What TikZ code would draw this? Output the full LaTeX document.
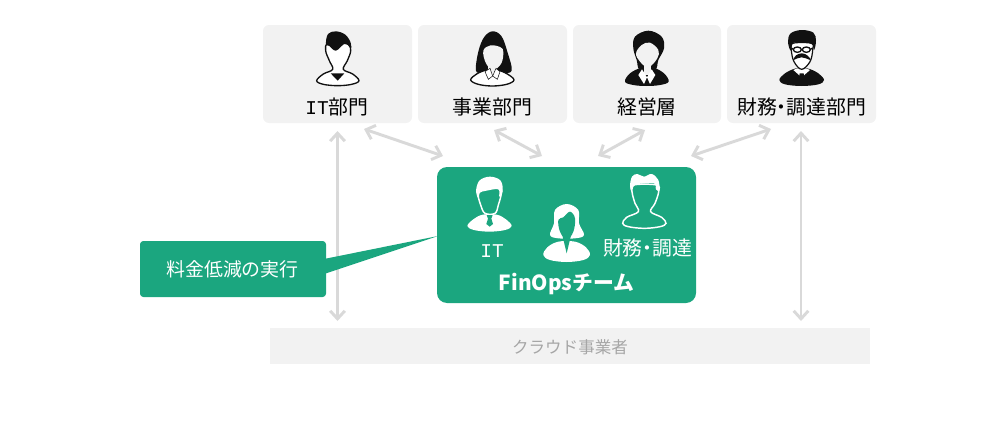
\documentclass[tikz,border=0pt]{standalone}
\usepackage{fontspec}
\setmainfont{Noto Sans CJK JP}
\newfontfamily\ltn{Liberation Mono}
\usetikzlibrary{arrows.meta}
\definecolor{grn}{HTML}{1BA67F}
\definecolor{pale}{HTML}{F2F2F2}
\definecolor{arr}{HTML}{D9D9D9}
\definecolor{ink}{HTML}{111111}
\definecolor{cloudtxt}{HTML}{A6A6A6}
\newcommand{\blob}[2][]{\fill[#1] plot[smooth cycle,tension=0.6] coordinates {#2};}
\newcommand{\blobd}[2][]{\filldraw[#1] plot[smooth cycle,tension=0.6] coordinates {#2};}
\newcommand{\ltin}[1]{{\ltn\fontsize{14.6pt}{15pt}\selectfont #1}}
\newcommand{\ndot}{\hspace{-0.26em}・\hspace{-0.26em}}
\tikzset{
  paneltext/.style={text=black,inner sep=0pt,anchor=center,font=\fontsize{14.9pt}{16pt}\selectfont},
  panel/.style={fill=pale,rounded corners=4.5pt},
  whitetext/.style={text=white,inner sep=0pt,anchor=center,font=\fontsize{14.2pt}{16pt}\selectfont},
  link/.style={draw=arr,line width=2.2pt,{Straight Barb[length=6pt,width=11pt,line width=2.2pt]}-{Straight Barb[length=6pt,width=11pt,line width=2.2pt]}},
  zoomA/.style={x=0.25pt,y=-0.25pt,shift={(195pt,-15pt)}},
  zoomB/.style={x=0.25pt,y=-0.25pt,shift={(427.5pt,-15pt)}},
  zoomC/.style={x=0.25pt,y=-0.25pt,shift={(322.5pt,-120pt)}},
  outl/.style={fill=white,draw=ink,line width=1pt},
  outw/.style={fill=grn,draw=white,line width=1.1pt},
}
\begin{document}
\begin{tikzpicture}[x=0.75pt,y=-0.75pt]
\useasboundingbox (0,0) rectangle (1000,421);
% top panels
\node[panel,minimum width=111.75pt,minimum height=73.5pt,inner sep=0pt] (p1) at (337.5,74) {};
\node[panel,minimum width=111.75pt,minimum height=73.5pt,inner sep=0pt] (p2) at (492.5,74) {};
\node[panel,minimum width=111pt,minimum height=73.5pt,inner sep=0pt] (p3) at (647,74) {};
\node[panel,minimum width=111.75pt,minimum height=73.5pt,inner sep=0pt] (p4) at (801.5,74) {};
\node[paneltext] (t1) at (337,106.5) {\ltin{IT}部門};
\node[paneltext] (t2) at (492.5,106.5) {事業部門};
\node[paneltext] (t3) at (647,106.5) {経営層};
\node[paneltext] (t4) at (801.5,106.5) {財務\ndot 調達部門};
% cloud bar
\node[fill=pale,minimum width=450pt,minimum height=27pt,inner sep=0pt] (cloud) at (570,346) {};
\node[inner sep=0pt,text=cloudtxt,font=\fontsize{12.4pt}{15pt}\selectfont] (cloudt) at (570,347.5) {クラウド事業者};
% connector ends
\coordinate (a1) at (337.5,131); \coordinate (a2) at (337.5,321);
\coordinate (b1) at (801,131);   \coordinate (b2) at (801,321);
\coordinate (c1) at (364,129);   \coordinate (c2) at (443,156);
\coordinate (d1) at (494,130);   \coordinate (d2) at (542,156);
\coordinate (e1) at (645,130);   \coordinate (e2) at (598,156);
\coordinate (f1) at (771,129);   \coordinate (f2) at (691,156);
\draw[link] (a1) -- (a2);
\draw[link] (b1) -- (b2);
\draw[link] (c1) -- (c2);
\draw[link] (d1) -- (d2);
\draw[link] (e1) -- (e2);
\draw[link] (f1) -- (f2);
% green team box and callout
\node[fill=grn,rounded corners=7.5pt,minimum width=194.25pt,minimum height=102pt,inner sep=0pt] (team) at (566.5,235) {};
\fill[grn] (324,259) -- (438,236) -- (324,274) -- cycle;
\node[fill=grn,rounded corners=2.5pt,minimum width=139.5pt,minimum height=42pt,inner sep=0pt] (call) at (233,269) {};
\node[whitetext] (callt) at (232.5,269) {料金低減の実行};
\node[whitetext,font=\bfseries\fontsize{15.6pt}{16pt}\selectfont] (teamt) at (566.5,284) {FinOpsチーム};
\node[whitetext] (g1) at (492,251) {\ltin{IT}};
\node[whitetext,font=\fontsize{14.9pt}{16pt}\selectfont] (g2) at (647.5,248) {財務\ndot 調達};
% icon 1: IT
\begin{scope}[zoomA]
\blobd[outl]{(170,182)(190,162)(218,148)(208,122)(197,92)(205,70)(262,72)(272,92)(262,122)(250,148)(278,162)(297,182)(275,193)(233,197)(190,193)}
\fill[ink] (212,160) -- (253,160) -- (233,182) -- cycle;
\blob[ink]{(198,72)(204,42)(228,34)(256,44)(272,68)(272,86)(256,70)(228,92)(208,78)}
% icon 2: business woman
\blob[ink]{(648,152)(655,95)(672,52)(697,34)(724,48)(742,95)(755,152)(725,158)(670,158)}
\blobd[outl]{(632,180)(650,162)(680,150)(712,150)(742,162)(762,180)(740,193)(697,198)(655,193)}
\blob[fill=pale]{(670,92)(692,76)(722,82)(730,96)(724,130)(700,150)(678,130)}
\fill[pale] (685,130) rectangle (712,160);
\filldraw[fill=white,draw=ink,line width=0.4pt] (675,155) -- (690,145) -- (698,168) -- (685,178) -- cycle;
\filldraw[fill=white,draw=ink,line width=0.4pt] (720,155) -- (708,145) -- (698,168) -- (712,178) -- cycle;
\end{scope}
% icons 3, 4
\begin{scope}[zoomB]
\blob[ink]{(165,185)(180,160)(215,143)(250,143)(282,160)(296,185)(270,195)(230,198)(190,195)}
\blob[ink]{(190,85)(195,50)(235,32)(275,50)(282,85)(265,120)(255,150)(210,150)(200,120)}
\blob[fill=pale]{(198,100)(215,75)(240,68)(265,90)(262,115)(235,142)(210,125)}
\fill[pale] (222,125) rectangle (242,165);
\fill[white] (205,165) -- (216,148) -- (231,172) -- (222,192) -- cycle;
\fill[white] (256,165) -- (245,148) -- (231,172) -- (240,192) -- cycle;
% icon 4
\blob[ink]{(628,180)(645,160)(678,145)(712,145)(745,160)(762,180)(745,193)(695,198)(645,193)}
\fill[white] (670,150) -- (695,172) -- (720,150) -- (708,145) -- (682,145) -- cycle;
\fill[ink] (689,160) -- (701,160) -- (705,188) -- (695,196) -- (685,188) -- cycle;
\blobd[fill=white,draw=ink,line width=0.9pt]{(664,90)(668,70)(724,70)(728,90)(720,125)(695,148)(672,125)}
\blob[ink]{(654,66)(662,40)(695,30)(730,38)(738,62)(732,90)(724,70)(680,68)(668,70)(662,92)}
\draw[ink,line width=1pt] (682,89) ellipse (12 and 8);
\draw[ink,line width=1pt] (709,89) ellipse (12 and 8);
\draw[ink,line width=1pt] (664,84) -- (670,88) (694,88) -- (697,88) (721,88) -- (728,84);
\blob[ink]{(670,120)(678,106)(695,100)(712,106)(722,120)(708,115)(695,112)(682,115)}
\end{scope}
% team icons
\begin{scope}[zoomC]
% man IT
\blob[white]{(112,198)(130,178)(158,164)(200,164)(228,178)(245,198)(225,210)(178,215)(132,210)}
\blobd[fill=grn,draw=white,line width=1.1pt]{(143,100)(150,85)(208,85)(214,100)(205,135)(195,160)(165,160)(152,135)}
\blob[white]{(138,95)(148,62)(180,50)(212,62)(218,95)(208,110)(205,88)(170,92)(150,98)(146,115)}
\fill[grn] (170,165) -- (188,165) -- (184,176) -- (189,192) -- (179,200) -- (169,192) -- (174,176) -- cycle;
% woman
\blob[white]{(340,285)(352,262)(385,245)(435,245)(468,262)(480,285)(460,300)(410,306)(360,300)}
\blob[white]{(360,225)(372,190)(375,150)(410,132)(445,150)(447,190)(462,225)(435,235)(385,235)}
\blob[fill=grn]{(385,180)(400,172)(420,155)(435,175)(430,215)(410,240)(390,215)}
\fill[grn] (398,230) -- (422,230) -- (410,280) -- cycle;
% outline man
\blobd[outw]{(578,190)(590,172)(625,155)(615,130)(606,95)(610,75)(680,75)(686,95)(675,130)(662,155)(695,172)(708,190)(690,200)(643,205)(595,200)}
\blob[white]{(600,78)(606,50)(622,42)(642,50)(665,42)(685,60)(688,92)(678,88)(672,70)(625,72)(610,80)(606,95)}
\end{scope}
\end{tikzpicture}
\end{document}
